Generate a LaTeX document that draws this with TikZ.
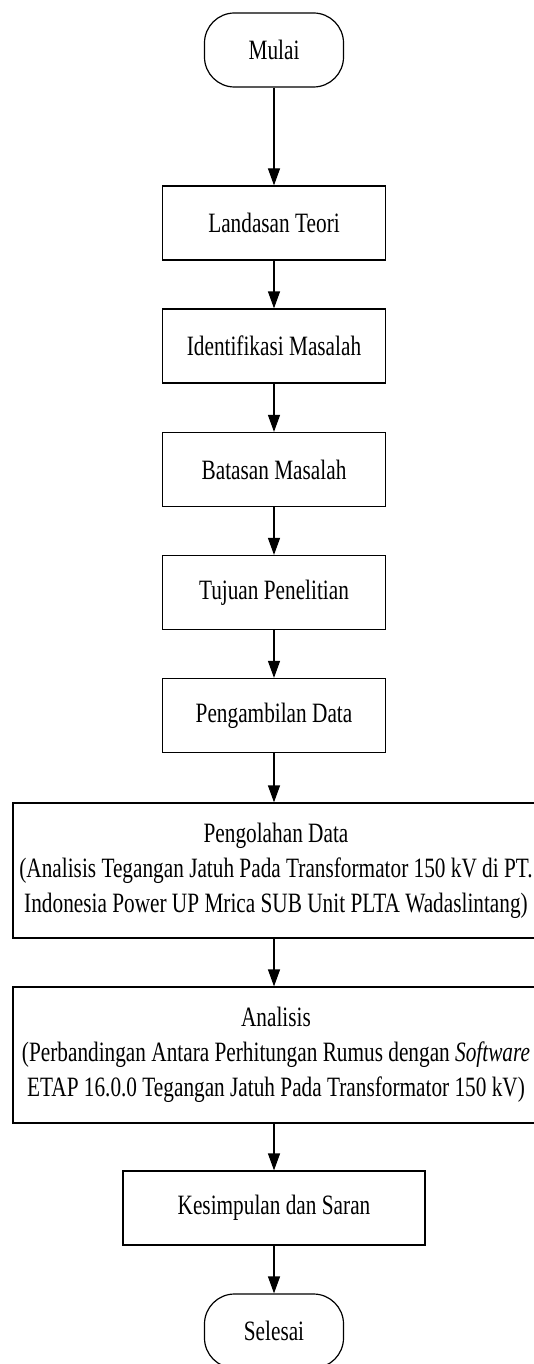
\documentclass[tikz,border=0pt]{standalone}
\usepackage{fontspec}
\setmainfont[FakeStretch=0.76]{Liberation Serif}
\usetikzlibrary{arrows.meta}
\begin{document}
\begin{tikzpicture}[x=1pt,y=-1pt,
  every node/.style={font=\fontsize{28}{35}\selectfont, inner sep=0pt, align=center},
  procbox/.style={draw, line width=1.2pt, minimum height=74pt, minimum width=223pt},
  widebox/.style={draw, line width=1.2pt, minimum width=526pt},
  termbox/.style={draw, line width=1.2pt, rounded corners=30pt, minimum height=74pt, minimum width=139pt},
  flow/.style={line width=1.2pt, -{Triangle[length=17pt,width=12pt]}}]
\useasboundingbox (0,0) rectangle (534,1364);
\node[termbox] (mulai) at (274,50) {Mulai};
\node[procbox] (landasan) at (274,223) {Landasan Teori};
\node[procbox] (ident) at (274,346) {Identifikasi Masalah};
\node[procbox] (batasan) at (274,469.5) {Batasan Masalah};
\node[procbox] (tujuan) at (274,592.5) {Tujuan Penelitian};
\node[procbox] (ambil) at (274,715.5) {Pengambilan Data};
\node[widebox, minimum height=135pt] (olah) at (276,870.5) {Pengolahan Data\\(Analisis Tegangan Jatuh Pada Transformator 150 kV di PT.\\Indonesia Power UP Mrica SUB Unit PLTA Wadaslintang)};
\node[widebox, minimum height=136pt] (analisis) at (276,1055) {Analisis\\(Perbandingan Antara Perhitungan Rumus dengan \textit{Software}\\ETAP 16.0.0 Tegangan Jatuh Pada Transformator 150 kV)};
\node[procbox, minimum width=302pt] (simpul) at (274,1208) {Kesimpulan dan Saran};
\node[termbox] (selesai) at (274,1331) {Selesai};
\draw[flow] (mulai) -- (landasan);
\draw[flow] (landasan) -- (ident);
\draw[flow] (ident) -- (batasan);
\draw[flow] (batasan) -- (tujuan);
\draw[flow] (tujuan) -- (ambil);
\draw[flow] (ambil) -- (ambil |- olah.north);
\draw[flow] (ambil |- olah.south) -- (ambil |- analisis.north);
\draw[flow] (ambil |- analisis.south) -- (simpul);
\draw[flow] (simpul) -- (selesai);
\end{tikzpicture}
\end{document}
